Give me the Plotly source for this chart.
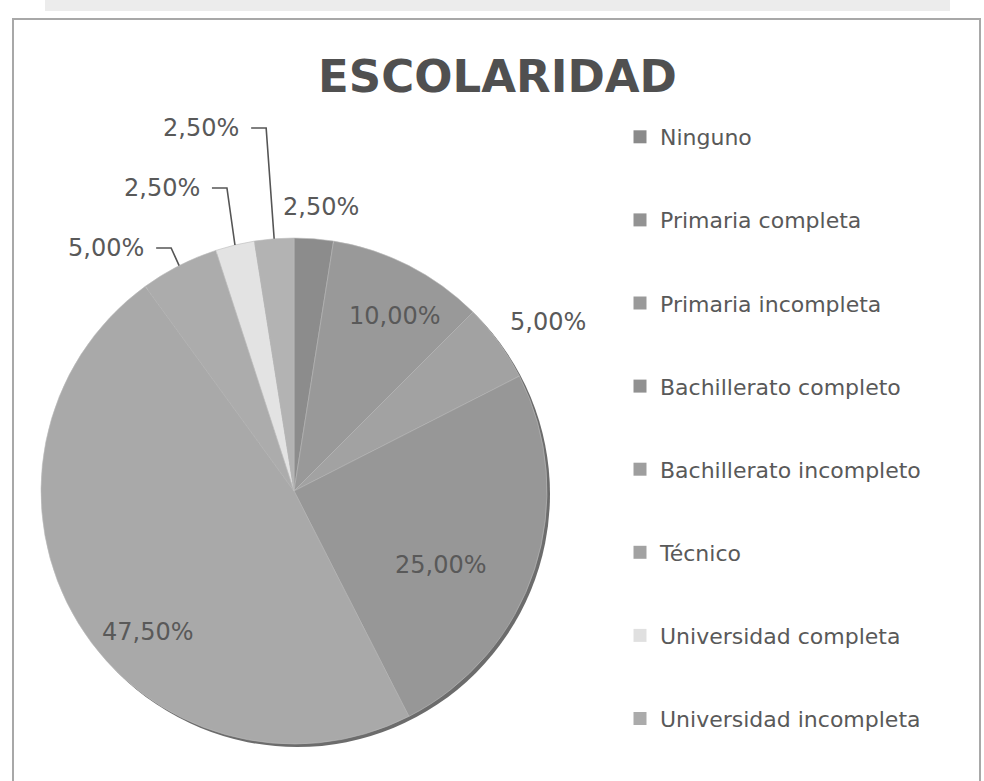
import math
import plotly.graph_objects as go

# ---------------- data ----------------
categories = ["Ninguno", "Primaria completa", "Primaria incompleta",
              "Bachillerato completo", "Bachillerato incompleto", "Técnico",
              "Universidad completa", "Universidad incompleta"]
percentages = [2.5, 10.0, 5.0, 25.0, 47.5, 5.0, 2.5, 2.5]
title_text = "ESCOLARIDAD"

# ---------------- styles ----------------
slice_colors = ["#8c8c8c", "#999999", "#a2a2a2", "#979797",
                "#a9a9a9", "#acacac", "#e3e3e3", "#b3b3b3"]
legend_colors = ["#8a8a8a", "#939393", "#9a9a9a", "#919191",
                 "#9e9e9e", "#a2a2a2", "#e0e0e0", "#ababab"]
FONT = "DejaVu Sans"
TXT = "#595959"

W, H = 984, 781
cx, cy, R = 294, 491, 253          # pie centre / radius in pixels

# label placement (layout only)
label_mode = ["out", "in", "out", "in", "in", "leader", "leader", "leader"]
label_r = [1.127, 0.80, 1.205, 0.65, 0.80, 1.0, 1.0, 1.0]
label_dtheta = [0.9, 3.0, 2.4, 8.7, -12.5, 0, 0, 0]
leader_y = [None, None, None, None, None, 248, 188, 128]


def paper(x, y):
    return x / W, 1 - y / H


def fmt(v):
    return f"{v:.2f}".replace(".", ",") + "%"


fig = go.Figure()

# soft shadow behind the pie
sh = 3
fig.add_trace(go.Pie(
    values=[1], labels=["shadow"], sort=False, showlegend=False,
    textinfo="none", hoverinfo="skip",
    marker=dict(colors=["#6c6c6c"], line=dict(width=0)),
    domain=dict(x=[(cx - R + sh) / W, (cx + R + sh) / W],
                y=[1 - (cy + R + sh) / H, 1 - (cy - R + sh) / H]),
))

fig.add_trace(go.Pie(
    labels=categories, values=percentages, sort=False,
    direction="clockwise", rotation=0, showlegend=False,
    textinfo="none", hoverinfo="label+percent",
    marker=dict(colors=slice_colors, line=dict(color="#bcbcbc", width=0.6)),
    domain=dict(x=[(cx - R) / W, (cx + R) / W],
                y=[1 - (cy + R) / H, 1 - (cy - R) / H]),
))

# legend entries
for cat, col in zip(categories, legend_colors):
    fig.add_trace(go.Scatter(
        x=[None], y=[None], mode="markers", name=cat, legendgroup=cat,
        marker=dict(symbol="square", size=13, color=col),
        showlegend=True, hoverinfo="skip",
    ))

# labels computed from slice angles
annotations = []
shapes = []
total = sum(percentages)
cum = 0.0
for i, v in enumerate(percentages):
    mid = (cum + v / 2) / total
    cum += v
    th = math.radians(mid * 360 + label_dtheta[i])
    if label_mode[i] in ("in", "out"):
        r = R * label_r[i]
        x = cx + r * math.sin(th)
        y = cy - r * math.cos(th)
        px, py = paper(x, y)
        annotations.append(dict(x=px, y=py, xref="paper", yref="paper",
                                text=fmt(v), showarrow=False,
                                xanchor="center", yanchor="middle",
                                font=dict(family=FONT, size=24, color=TXT)))
    else:
        ax = cx + R * math.sin(th)
        ay = cy - R * math.cos(th)
        ex, ey = ax - 8, leader_y[i]
        hx = ex - 15
        pts = [paper(ax, ay), paper(ex, ey), paper(hx, ey)]
        path = "M {},{} L {},{} L {},{}".format(*[c for p in pts for c in p])
        shapes.append(dict(type="path", path=path, xref="paper", yref="paper",
                           line=dict(color="#555555", width=1.6)))
        tx, ty = paper(hx - 10, ey)
        annotations.append(dict(x=tx, y=ty, xref="paper", yref="paper",
                                text=fmt(v), showarrow=False,
                                xanchor="right", yanchor="middle",
                                font=dict(family=FONT, size=24, color=TXT)))

# frame decoration
shapes.insert(0, dict(type="rect", xref="paper", yref="paper",
                      x0=45 / W, x1=950 / W, y0=1 - 11 / H, y1=1,
                      fillcolor="#ececec", line=dict(width=0), layer="below"))
shapes.insert(1, dict(type="rect", xref="paper", yref="paper",
                      x0=13 / W, x1=980 / W, y0=-0.02, y1=1 - 19 / H,
                      fillcolor="rgba(0,0,0,0)",
                      line=dict(color="#a8a8a8", width=2), layer="below"))

fig.update_layout(
    width=W, height=H,
    margin=dict(l=0, r=0, t=0, b=0),
    paper_bgcolor="white", plot_bgcolor="white",
    title=dict(text=f"<b>{title_text}</b>", x=0.5056, xanchor="center",
               y=1 - 76 / H, yanchor="middle",
               font=dict(family=FONT, size=45, color="#505050")),
    xaxis=dict(visible=False), yaxis=dict(visible=False),
    legend=dict(x=620 / W, xanchor="left", y=1 - 116 / H, yanchor="top",
                traceorder="grouped", tracegroupgap=51.5,
                font=dict(family=FONT, size=22, color=TXT),
                bgcolor="rgba(0,0,0,0)", itemclick=False, itemdoubleclick=False),
    annotations=annotations,
    shapes=shapes,
)

fig.write_html("out.html",
               config={"displayModeBar": False},
               post_script="document.body.style.margin='0px';"
                           "document.body.style.overflow='hidden';")
